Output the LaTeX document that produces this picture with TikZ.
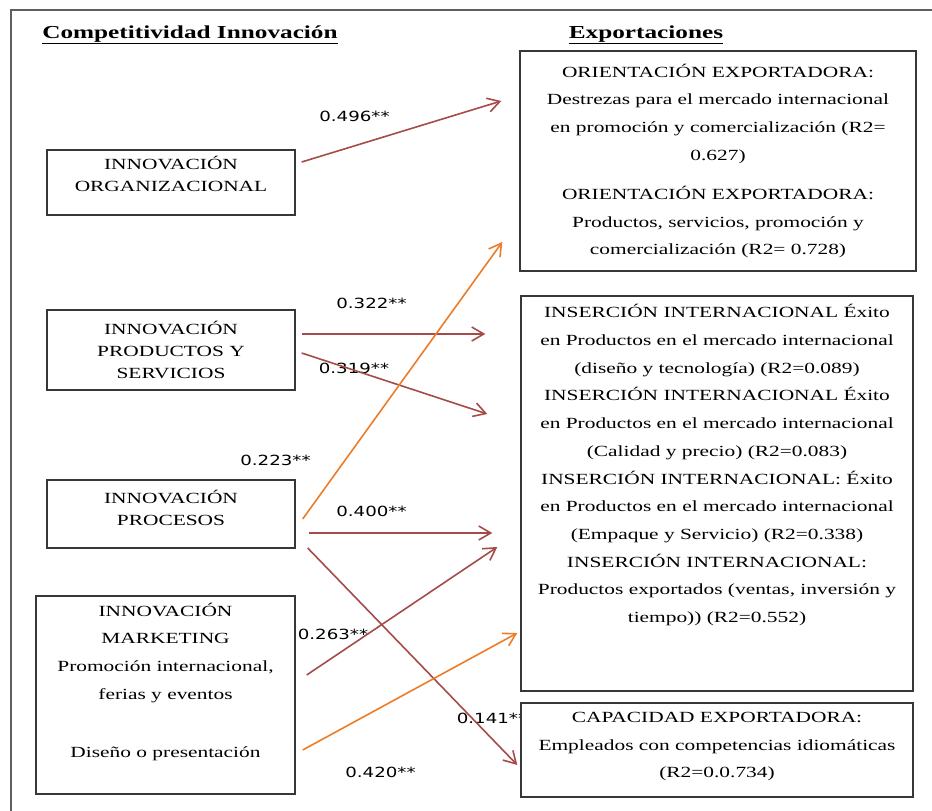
\documentclass[tikz,border=0pt]{standalone}
\usepackage{fontspec}
\setmainfont{Liberation Serif}[FakeStretch=1.38]
\newfontfamily\valfont{DejaVu Sans}[FakeStretch=1.3]
\usetikzlibrary{arrows.meta,calc}
\definecolor{pathred}{RGB}{165,75,72}
\definecolor{pathorange}{RGB}{236,125,40}
\definecolor{boxline}{RGB}{55,55,55}
\definecolor{frameline}{RGB}{95,95,95}
% invisible strut that deepens the last line of a box
\newcommand{\dropby}[1]{\rule[-#1]{0pt}{#1}}

\begin{document}
\begin{tikzpicture}[x=1pt,y=-1pt,
  box/.style={draw=boxline, line width=1.4pt, fill=white, align=center, inner sep=0pt},
  lbox/.style={box, font=\fontsize{15.5}{22}\selectfont},
  rbox/.style={box, font=\fontsize{15.5}{27.7}\selectfont},
  heading/.style={font=\fontsize{18.3}{20}\selectfont\bfseries, anchor=base, inner sep=0pt},
  coef/.style={font=\valfont\fontsize{14}{16}\selectfont, inner sep=0pt},
  link/.style={line width=1.6pt, -{Straight Barb[length=12pt,width=14pt]}},
  redlink/.style={link, draw=pathred},
  orangelink/.style={link, draw=pathorange},
]
\useasboundingbox (0,0) rectangle (932,811);

% page frame
\draw[frameline, line width=1.5pt] (932,10) -- (11,10) -- (11,811);

% column headings
\node[heading] (hin) at (190,38) {\underline{Competitividad Innovación}};
\node[heading] (hex) at (646,38) {\underline{Exportaciones}};

% innovation constructs
\node[lbox, minimum width=248pt, minimum height=65pt] (org) at (171,182.5)
  {INNOVACIÓN\\ORGANIZACIONAL\dropby{17pt}};
\node[lbox, minimum width=248pt, minimum height=80pt] (prod) at (171,350)
  {INNOVACIÓN\\PRODUCTOS Y\\SERVICIOS};
\node[lbox, minimum width=248pt, minimum height=68pt] (proc) at (171,514)
  {INNOVACIÓN\\PROCESOS\dropby{13pt}};
\node[rbox, minimum width=259pt, minimum height=198pt] (mkt) at (165.5,695)
  {INNOVACIÓN\\MARKETING\\Promoción internacional,\\ferias y eventos\\[30pt]Diseño o presentación\dropby{30pt}};

% path coefficients
\node[coef] (c496) at (354.5,116) {0.496**};
\node[coef] (c322) at (371.5,303) {0.322**};
\node[coef] (c319) at (354,368) {0.319**};
\node[coef] (c223) at (275.5,460) {0.223**};
\node[coef] (c400) at (371.5,511) {0.400**};
\node[coef] (c263) at (333,634) {0.263**};
\node[coef] (c141) at (492,718) {0.141**};
\node[coef] (c420) at (380.5,772) {0.420**};

% export constructs
\node[rbox, minimum width=396pt, minimum height=220pt] (ori) at (718,161)
  {ORIENTACIÓN EXPORTADORA:\\
   Destrezas para el mercado internacional\\
   en promoción y comercialización (R2=\\
   0.627)\\[11.5pt]
   ORIENTACIÓN EXPORTADORA:\\
   Productos, servicios, promoción y\\
   comercialización (R2= 0.728)};
\node[rbox, minimum width=392pt, minimum height=395pt] (ins) at (717,493.5)
  {INSERCIÓN INTERNACIONAL Éxito\\
   en Productos en el mercado internacional\\
   (diseño y tecnología) (R2=0.089)\\
   INSERCIÓN INTERNACIONAL Éxito\\
   en Productos en el mercado internacional\\
   (Calidad y precio) (R2=0.083)\\
   INSERCIÓN INTERNACIONAL: Éxito\\
   en Productos en el mercado internacional\\
   (Empaque y Servicio) (R2=0.338)\\
   INSERCIÓN INTERNACIONAL:\\
   Productos exportados (ventas, inversión y\\
   tiempo)) (R2=0.552)\dropby{60pt}};
\node[rbox, minimum width=392pt, minimum height=94pt] (cap) at (717,750)
  {CAPACIDAD EXPORTADORA:\\
   Empleados con competencias idiomáticas\\
   (R2=0.0.734)\dropby{10pt}};

% connector end points
\coordinate (s496) at ($(org.east)+(6,-20.5)$);
\coordinate (e496) at ($(ori.west)+(-18,-60)$);
\coordinate (s322) at ($(prod.east)+(6,-16)$);
\coordinate (e322) at ($(ins.west)+(-35,-159.5)$);
\coordinate (s319) at ($(prod.east)+(6,3)$);
\coordinate (e319) at ($(ins.west)+(-33,-79.5)$);
\coordinate (s223) at ($(proc.east)+(7,5)$);
\coordinate (e223) at ($(ori.west)+(-17,81)$);
\coordinate (s400) at ($(proc.east)+(13,19)$);
\coordinate (e400) at ($(ins.west)+(-28,39.5)$);
\coordinate (s141) at ($(proc.east)+(12,34)$);
\coordinate (e141) at ($(cap.west)+(-3,15)$);
\coordinate (s263) at ($(mkt.east)+(11,-20)$);
\coordinate (e263) at ($(ins.west)+(-23,53.5)$);
\coordinate (s420) at ($(mkt.east)+(7,55)$);
\coordinate (e420) at ($(ins.west)+(-3,139.5)$);

% structural paths
\draw[redlink] (s496) -- (e496);
\draw[redlink] (s322) -- (e322);
\draw[redlink] (s319) -- (e319);
\draw[orangelink] (s223) -- (e223);
\draw[redlink] (s400) -- (e400);
\draw[redlink] (s141) -- (e141);
\draw[redlink] (s263) -- (e263);
\draw[orangelink] (s420) -- (e420);
\end{tikzpicture}
\end{document}
